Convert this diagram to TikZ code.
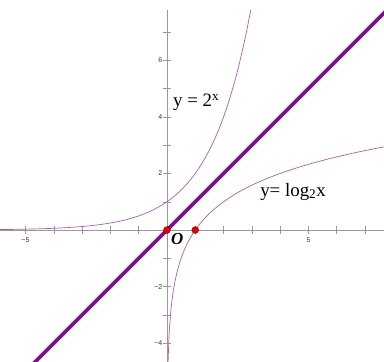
\documentclass[tikz,border=0pt]{standalone}
\usepackage{fontspec}
\setmainfont{Liberation Serif}
\newfontfamily\ticksfont{Liberation Sans}
\definecolor{thincol}{RGB}{172,90,190}
\definecolor{thickcol}{RGB}{128,16,140}
\begin{document}
\begin{tikzpicture}[x=1cm,y=1cm,
  axis/.style={draw=gray!80, line width=0.6pt},
  tickmark/.style={draw=gray!80, line width=0.5pt},
  ticklab/.style={font=\ticksfont\fontsize{7}{8}\selectfont, text=black!80, inner sep=1pt},
  thincurve/.style={draw=thincol, line width=0.7pt},
  thickline/.style={draw=thickcol, line width=3.6pt},
  dot/.style={circle, fill=red!90!black, draw=red!50!black, line width=0.4pt, minimum size=7pt, inner sep=0pt},
  curvelab/.style={font=\fontsize{19}{21}\selectfont, inner sep=0pt, anchor=base west}]
\useasboundingbox (-5.90,-4.66) rectangle (7.67,8.13);
\clip (-5.90,-4.66) rectangle (7.67,8.13);
% axes
\coordinate (xl) at (-5.90,0);
\coordinate (xr) at (7.67,0);
\coordinate (yb) at (0,-4.66);
\coordinate (yt) at (0,7.77);
\draw[axis] (xl) -- (xr);
\draw[axis] (yb) -- (yt);
\foreach \i in {-5,...,7} {\draw[tickmark] (\i,-0.14) -- (\i,0.14);}
\foreach \j in {-4,...,7} {\draw[tickmark] (-0.14,\j) -- (0.14,\j);}
\node[ticklab] (lm5) at (-5,-0.36) {−5};
\node[ticklab] (l5) at (5,-0.36) {5};
\node[ticklab, anchor=east] (l6) at (-0.12,6) {6};
\node[ticklab, anchor=east] (l4) at (-0.12,4) {4};
\node[ticklab, anchor=east] (l2) at (-0.12,2) {2};
\node[ticklab, anchor=east] (lm2) at (-0.12,-2) {−2};
\node[ticklab, anchor=east] (lm4) at (-0.12,-4) {−4};
% curves
\draw[thincurve, domain=-5.9:2.96, samples=120, smooth] plot (\x,{2^(\x)});
\draw[thincurve, domain=0.035:7.67, samples=200, smooth] plot (\x,{ln(\x)/ln(2)});
\draw[thickline] (-4.8,-4.8) -- (7.9,7.9);
% points
\node[dot] (O) at (0,0) {};
\node[dot] (P) at (1,0) {};
% labels
\node[font=\fontsize{17}{18}\selectfont\bfseries\itshape, inner sep=0pt] (olab) at (0.36,-0.32) {O};
\node[curvelab] (l1) at (0.21,4.35) {y = 2\textsuperscript{x}};
\node[curvelab] (l2lab) at (3.29,1.20) {y= log\textsubscript{2}x};
\end{tikzpicture}
\end{document}
